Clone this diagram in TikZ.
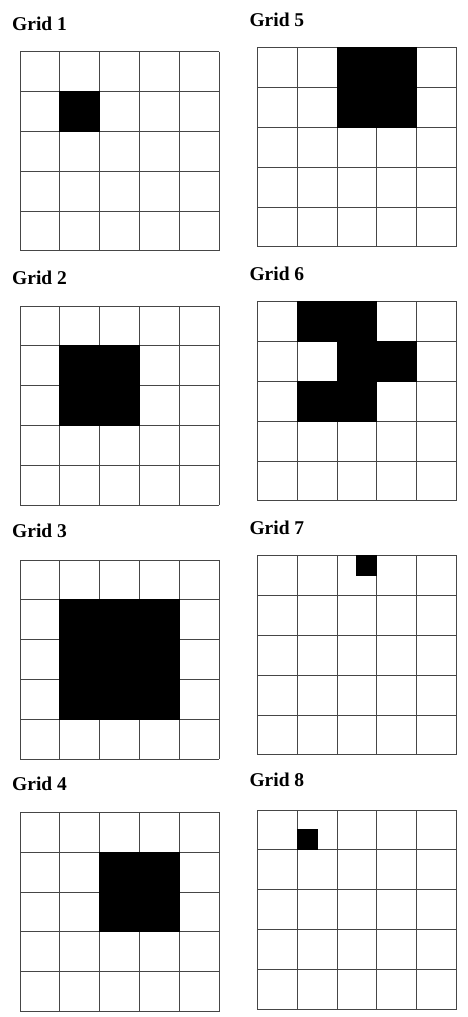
\documentclass[tikz,border=0pt]{standalone}
\usepackage{fontspec}
\setmainfont{Liberation Serif}
\begin{document}
\begin{tikzpicture}[x=1pt,y=-1pt,
  gl/.style={draw=gray!55!black, line width=1pt},
  cellfill/.style={fill=black, draw=black, line width=1pt},
  lbl/.style={anchor=base west, font=\fontsize{19.5}{21}\selectfont\bfseries, inner sep=0pt},
  gridlines/.pic={
    \foreach \i in {0,...,5} {
      \draw[gl] (\i,0) -- (\i,5);
      \draw[gl] (0,\i) -- (5,\i);
    }
  }]
\useasboundingbox[fill=white] (0,0) rectangle (467,1017);
% labels
\node[lbl] (l1) at (12,30.5) {Grid 1};
\node[lbl] (l5) at (249.3,26) {Grid 5};
\node[lbl] (l2) at (12,284) {Grid 2};
\node[lbl] (l6) at (249.3,280) {Grid 6};
\node[lbl] (l3) at (12,537) {Grid 3};
\node[lbl] (l7) at (249.3,534) {Grid 7};
\node[lbl] (l4) at (12,790.7) {Grid 4};
\node[lbl] (l8) at (249.3,786) {Grid 8};
% Grid 1
\begin{scope}[shift={(20,51.7)}, x=39.85pt, y=-39.85pt]
  \pic {gridlines};
  \draw[cellfill] (1,1) rectangle (2,2);
\end{scope}
% Grid 5
\begin{scope}[shift={(257.3,47.7)}, x=39.85pt, y=-39.85pt]
  \pic {gridlines};
  \draw[cellfill] (2,0) rectangle (4,2);
\end{scope}
% Grid 2
\begin{scope}[shift={(20,306)}, x=39.85pt, y=-39.85pt]
  \pic {gridlines};
  \draw[cellfill] (1,1) rectangle (3,3);
\end{scope}
% Grid 6
\begin{scope}[shift={(257.3,301.7)}, x=39.85pt, y=-39.85pt]
  \pic {gridlines};
  \draw[cellfill] (1,0) -- (3,0) -- (3,1) -- (4,1) -- (4,2) -- (3,2) -- (3,3) -- (1,3) -- (1,2) -- (2,2) -- (2,1) -- (1,1) -- cycle;
\end{scope}
% Grid 3
\begin{scope}[shift={(20,560)}, x=39.85pt, y=-39.85pt]
  \pic {gridlines};
  \draw[cellfill] (1,1) rectangle (4,4);
\end{scope}
% Grid 7
\begin{scope}[shift={(257.3,555.7)}, x=39.85pt, y=-39.85pt]
  \pic {gridlines};
  \draw[cellfill] (2.5,0) rectangle (3,0.5);
\end{scope}
% Grid 4
\begin{scope}[shift={(20,812.3)}, x=39.85pt, y=-39.85pt]
  \pic {gridlines};
  \draw[cellfill] (2,1) rectangle (4,3);
\end{scope}
% Grid 8
\begin{scope}[shift={(257.3,810)}, x=39.85pt, y=-39.85pt]
  \pic {gridlines};
  \draw[cellfill] (1,0.5) rectangle (1.5,1);
\end{scope}
\end{tikzpicture}
\end{document}
